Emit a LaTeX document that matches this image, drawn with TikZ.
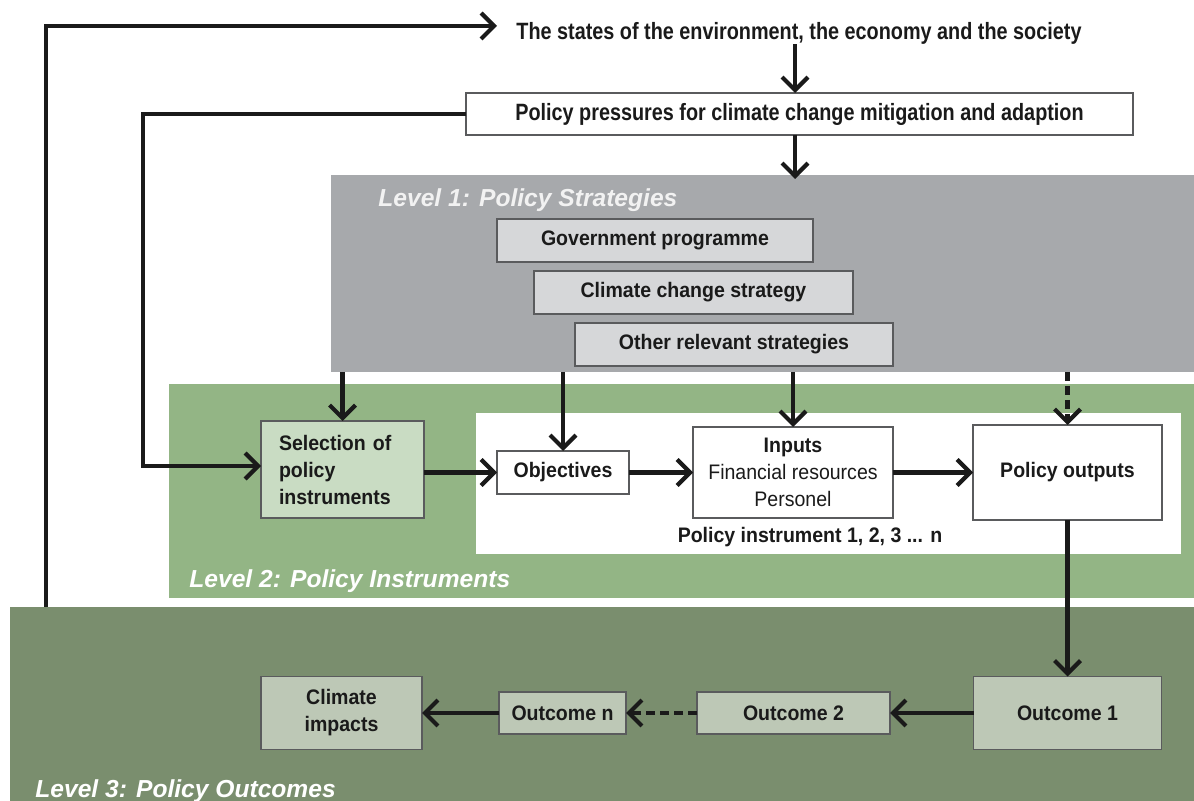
\documentclass[tikz,border=0pt]{standalone}
\usepackage{fontspec}
\setmainfont{Liberation Sans}
\newfontfamily\fcond{Liberation Sans}[FakeStretch=0.84]
\newfontfamily\fnode{Liberation Sans}[FakeStretch=0.93]
\usetikzlibrary{arrows.meta}
\definecolor{lvlone}{HTML}{A7A9AC}
\definecolor{lvltwo}{HTML}{93B585}
\definecolor{lvlthree}{HTML}{7A8E6E}
\definecolor{boxgray}{HTML}{D6D7D9}
\definecolor{boxgreen}{HTML}{C9DCC3}
\definecolor{boxsage}{HTML}{BDC8B6}
\definecolor{edgegray}{HTML}{5A5B5D}
\definecolor{ink}{HTML}{1A1A1A}
\begin{document}
\begin{tikzpicture}[x=0.5pt,y=-0.5pt,
  band/.style={draw=none,inner sep=0pt,outer sep=0pt},
  nbox/.style={draw=edgegray,line width=0.8pt,inner sep=2pt,outer sep=0pt,align=center,
    font=\fnode\fontsize{10.5}{13.5}\selectfont\bfseries,text=ink},
  lvl/.style={anchor=base west,inner sep=0pt,text=white,
    font=\fontsize{12.3}{14}\selectfont\bfseries\itshape},
  arr/.style={line width=2.1pt,draw=ink,-{Straight Barb[length=6.5pt,width=13pt]}},
  dsh/.style={dash pattern=on 4.5pt off 2.5pt}]
\useasboundingbox (0,0) rectangle (1194,801);
% bands
\node[band,fill=lvlone,minimum width=431.5pt,minimum height=98.5pt] (L1) at (762.5,273.5) {};
\node[band,fill=lvltwo,minimum width=512.5pt,minimum height=107pt] (L2) at (681.5,491) {};
\node[band,fill=white,minimum width=352.5pt,minimum height=70.5pt] (W) at (828.5,483.5) {};
\node[band,fill=lvlthree,minimum width=592pt,minimum height=97pt] (L3) at (602,704) {};
% level labels
\node[lvl,text=white!95!black] (t1) at (378,207) {Level 1: Policy Strategies};
\node[lvl] (t2) at (189,588) {Level 2: Policy Instruments};
\node[lvl] (t3) at (35,797) {Level 3: Policy Outcomes};
% top texts
\node[inner sep=0pt,text=ink,font=\fcond\fontsize{11.8}{14}\selectfont\bfseries] (states) at (799,33) {The states of the environment, the economy and the society};
\node[nbox,fill=white,minimum width=333.5pt,minimum height=21pt,font=\fcond\fontsize{11.8}{14}\selectfont\bfseries] (press) at (799.5,114) {Policy pressures for climate change mitigation and adaption};
% level 1 boxes
\node[nbox,fill=boxgray,minimum width=158pt,minimum height=21.5pt] (gov) at (655,240.5) {Government programme};
\node[nbox,fill=boxgray,minimum width=159.5pt,minimum height=21.5pt] (ccs) at (693.5,292.5) {Climate change strategy};
\node[nbox,fill=boxgray,minimum width=159pt,minimum height=21.5pt] (ors) at (734,344.5) {Other relevant strategies};
% level 2 boxes
\node[nbox,fill=boxgreen,align=left,text width=63.5pt,inner xsep=9pt,minimum height=48.5pt] (sel) at (342.5,469.5) {Selection of\\policy\\instruments};
\node[nbox,fill=white,minimum width=66pt,minimum height=21.5pt] (obj) at (563,472.5) {Objectives};
\node[nbox,fill=white,minimum width=100pt,minimum height=45.5pt] (inp) at (793,472.5) {Inputs\\{\mdseries Financial resources}\\{\mdseries Personel}};
\node[nbox,fill=white,minimum width=94.5pt,minimum height=47.5pt] (out) at (1067.5,472.5) {Policy outputs};
\node[inner sep=0pt,text=ink,font=\fnode\fontsize{10.5}{13}\selectfont\bfseries] (pin) at (810,537) {Policy instrument 1, 2, 3 ... n};
% level 3 boxes
\node[nbox,fill=boxsage,minimum width=80.5pt,minimum height=36.5pt] (ci) at (341.5,713) {Climate\\impacts};
\node[nbox,fill=boxsage,minimum width=63.5pt,minimum height=21pt] (on) at (562.5,713) {Outcome n};
\node[nbox,fill=boxsage,minimum width=96.5pt,minimum height=21pt] (o2) at (793.5,713) {Outcome 2};
\node[nbox,fill=boxsage,minimum width=94pt,minimum height=36.5pt] (o1) at (1067.5,713) {Outcome 1};
% helper coordinates
\coordinate (fbx) at (46,0);
\coordinate (fbend) at (497,26);
\coordinate (xa) at (795,0);
\coordinate (lb) at (143,466);
% connectors
\draw[arr] (L3.north -| fbx) |- (fbend);
\draw[arr] (states.south -| xa) -- (press.north -| xa);
\draw[arr] (press.south -| xa) -- ([yshift=-2pt]L1.north -| xa);
\draw[arr] (press.west) -| (lb) -- (lb -| sel.west);
\draw[arr] (L1.south -| sel.north) -- (sel.north);
\draw[arr] (L1.south -| obj.north) -- (obj.north);
\draw[arr] (L1.south -| inp.north) -- (inp.north);
\draw[arr,dsh] (L1.south -| out.north) -- (out.north);
\draw[arr] (obj.west -| sel.east) -- (obj.west);
\draw[arr] (obj.east) -- (inp.west);
\draw[arr] (inp.east) -- (out.west);
\draw[arr] (out.south) -- (o1.north);
\draw[arr] (o1.west) -- (o2.east);
\draw[arr,dsh] (o2.west) -- (on.east);
\draw[arr] (on.west) -- (ci.east);
\end{tikzpicture}
\end{document}
